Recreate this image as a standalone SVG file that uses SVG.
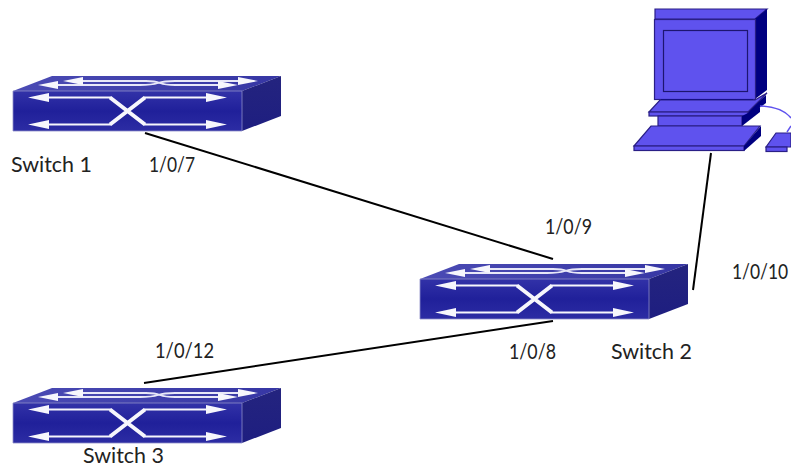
<svg xmlns="http://www.w3.org/2000/svg" width="791" height="466" viewBox="0 0 791 466">
<style>
.lbl{font-family:Lato,"Liberation Sans",sans-serif;font-size:21px;fill:#222}
.link{stroke:#000;stroke-width:2;fill:none}
.w{fill:none;stroke:#f6f6fc;stroke-width:2}
.x{fill:none;stroke:#f6f6fc;stroke-width:4}
.wt{fill:none;stroke:#e8e8f8;stroke-width:1.800}
.a{fill:#f6f6fc}
.pc{fill:#5f52ee;stroke:#2a1f86;stroke-width:1.200}
.pd{fill:#000080}
</style>
<defs>
<linearGradient id="front" x1="0" y1="0" x2="0" y2="1"><stop offset="0" stop-color="#3232a8"/><stop offset=".5" stop-color="#20209a"/><stop offset="1" stop-color="#2c2ca4"/></linearGradient>
<linearGradient id="side" x1="0" y1="0" x2="0" y2="1"><stop offset="0" stop-color="#24247f"/><stop offset="1" stop-color="#1e1e80"/></linearGradient>
<linearGradient id="top" x1="0" y1="0" x2="1" y2="0"><stop offset="0" stop-color="#4b4bb4"/><stop offset="1" stop-color="#3636a4"/></linearGradient>
<g id="sw">
<path d="M13 91 L52 76 H281 L242 91Z" fill="url(#top)"/>
<path d="M242 91 L281 76 V116 L242 131Z" fill="url(#side)"/>
<path d="M13 91 H242 V131 H13Z" fill="url(#front)" stroke="#8e8ec8" stroke-width=".8"/>
<path class="w" d="M45 97.500 H111 M144 97.500 H210 M45 124.500 H111 M144 124.500 H210"/>
<path class="x" d="M110 97.500 L145 124.500 M110 124.500 L145 97.500"/>
<path class="a" d="M28 97.500 L49 93 V102Z M227 97.500 L206 93 V102Z M28 124.500 L49 120 V129Z M227 124.500 L206 120 V129Z"/>
<path class="wt" d="M80 81 H146 Q155 81 160 83 Q165 85 175 85 H222"/>
<path class="wt" d="M55 85 H140 Q152 85 158 83 Q164 81 175 81 H240"/>
<path class="a" d="M63 81 L83 77 V85Z M258 81 L238 77 V85Z M38 85 L58 81 V89Z M238 85 L218 81 V89Z"/>
</g>
</defs>
<g id="connectors">
<line class="link" x1="145" y1="133" x2="553" y2="259"/>
<line class="link" x1="144" y1="383" x2="553" y2="321"/>
<line class="link" x1="711" y1="153" x2="693" y2="290"/>
</g>
<g id="switch1"><use href="#sw"/><text class="lbl" x="11" y="172" textLength="81" lengthAdjust="spacingAndGlyphs">Switch 1</text><text class="lbl" x="149" y="172" textLength="46" lengthAdjust="spacingAndGlyphs">1/0/7</text></g>
<g id="switch2"><use href="#sw" x="407" y="188"/><text class="lbl" x="545" y="234" textLength="47" lengthAdjust="spacingAndGlyphs">1/0/9</text><text class="lbl" x="509" y="359" textLength="47" lengthAdjust="spacingAndGlyphs">1/0/8</text><text class="lbl" x="611" y="359" textLength="81" lengthAdjust="spacingAndGlyphs">Switch 2</text></g>
<g id="switch3"><use href="#sw" y="312"/><text class="lbl" x="155" y="358" textLength="59" lengthAdjust="spacingAndGlyphs">1/0/12</text><text class="lbl" x="83" y="463" textLength="81" lengthAdjust="spacingAndGlyphs">Switch 3</text></g>
<g id="computer">
<path class="pc" d="M655 19 V9 H767 L755 19Z"/>
<path class="pd" d="M755 19 L767 9 V90 L755 99Z"/>
<rect class="pc" x="654.500" y="19.500" width="101" height="80"/>
<rect x="663.500" y="30.500" width="84" height="61" fill="#5f52ee" stroke="#1d1570" stroke-width="1.200"/>
<path class="pd" d="M661 99 H753 V104 H661Z"/>
<path class="pd" d="M748 116 L766 103 V95 L748 111Z"/>
<path class="pc" d="M649 112 L660 100 H755 L767 93 L748 112Z"/>
<rect class="pc" x="649" y="112" width="99" height="4"/>
<rect class="pc" x="658" y="116" width="84" height="10"/>
<path class="pd" d="M742 116 L760 107 V112 L742 126Z"/>
<path class="pc" d="M634 146 L651 126 H760 L744 146Z"/>
<rect class="pc" x="634" y="146" width="110" height="4.500"/>
<path class="pd" d="M744 151 L761 136 V126 L744 146Z"/>
<path d="M760 106 Q782 107 791 118 M791 126 L787 132" fill="none" stroke="#5f52ee" stroke-width="1.500"/>
<path class="pc" d="M766 147 L776 133 H791 V147Z"/>
<rect class="pc" x="766" y="147" width="21" height="4.500"/>
</g>
<g id="port-1-0-10"><text class="lbl" transform="translate(732 279) scale(.83 1)">1/0/10</text></g>
</svg>
